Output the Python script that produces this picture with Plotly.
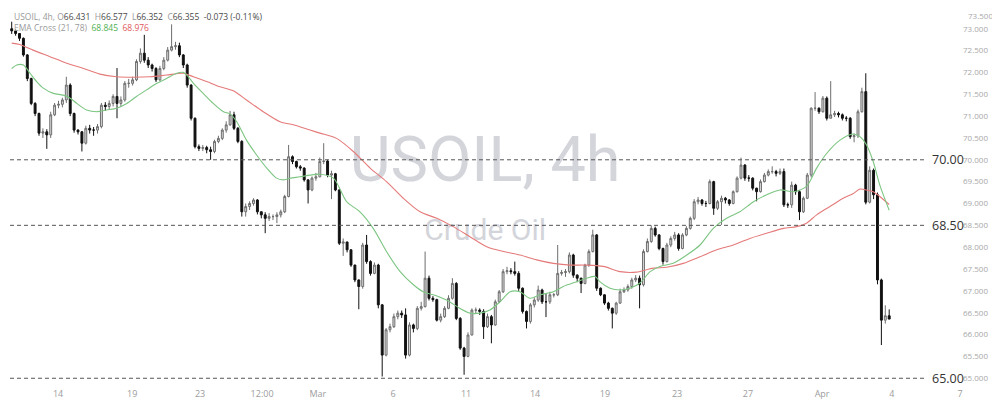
import plotly.graph_objects as go

# ---------------- data ----------------
first_open = 73.00
closes = [
    72.95, 72.89, 72.78, 72.40, 71.86, 71.29, 71.06, 70.61, 70.64, 70.57,
    71.03, 71.25, 71.27, 71.37, 71.71, 71.06, 70.68, 70.64, 70.38, 70.72,
    70.68, 70.68, 70.76, 71.25, 71.22, 71.29, 71.45, 71.29, 71.37, 71.75,
    71.75, 71.83, 72.25, 72.44, 72.28, 72.17, 72.09, 71.83, 72.09, 72.28,
    72.51, 72.59, 72.61, 72.40, 72.17, 71.71, 70.95, 70.30, 70.26, 70.28,
    70.23, 70.19, 70.42, 70.49, 70.68, 70.80, 71.03, 70.72, 70.42, 68.81,
    68.93, 69.00, 69.08, 68.81, 68.74, 68.66, 68.70, 68.70, 68.74, 68.81,
    69.16, 70.07, 69.96, 69.84, 69.81, 69.54, 69.31, 69.58, 69.61, 69.96,
    69.97, 69.65, 69.68, 69.31, 68.09, 68.12, 67.94, 67.59, 67.25, 67.10,
    68.05, 67.67, 67.40, 67.59, 66.68, 65.53, 66.11, 66.18, 66.41, 66.49,
    66.45, 65.53, 66.22, 66.14, 66.60, 66.64, 67.29, 66.83, 66.80, 66.33,
    66.41, 66.60, 66.83, 67.17, 66.37, 65.69, 65.50, 65.99, 66.56, 66.56,
    66.53, 66.18, 66.41, 66.22, 66.75, 66.98, 67.44, 67.46, 67.44, 67.40,
    67.06, 66.53, 66.30, 66.68, 66.79, 67.02, 66.75, 66.75, 66.91, 66.91,
    67.40, 67.42, 67.44, 67.82, 67.36, 67.29, 67.17, 67.59, 67.90, 68.28,
    67.06, 66.91, 66.72, 66.60, 66.49, 66.72, 66.98, 67.02, 67.10, 67.25,
    67.29, 67.14, 67.90, 68.13, 68.43, 68.28, 67.97, 67.67, 68.05, 68.20,
    68.28, 67.97, 68.28, 68.43, 68.66, 69.04, 69.08, 69.00, 69.00, 69.50,
    68.89, 69.04, 69.12, 69.08, 69.00, 69.27, 69.58, 69.88, 69.58, 69.58,
    69.35, 69.27, 69.50, 69.65, 69.73, 69.73, 69.69, 69.73, 68.97, 68.97,
    69.42, 69.27, 68.81, 69.12, 69.65, 71.18, 71.18, 71.10, 71.41, 70.95,
    71.03, 71.06, 71.03, 70.95, 70.95, 70.53, 70.55, 71.10, 71.56, 69.03,
    69.76, 69.20, 67.25, 66.33, 66.431, 66.355,
]
highs = [
    73.16, 72.98, 72.90, 72.80, 72.42, 71.88, 71.32, 71.08, 70.72, 70.70,
    71.10, 71.30, 71.35, 71.42, 71.90, 71.75, 71.08, 70.70, 70.66, 70.78,
    70.80, 70.75, 70.82, 71.30, 71.32, 71.36, 71.50, 72.10, 71.45, 71.80,
    71.85, 71.90, 72.30, 72.55, 72.86, 72.35, 72.20, 72.12, 72.15, 72.35,
    72.58, 73.10, 72.70, 72.68, 72.42, 72.20, 71.73, 70.97, 70.35, 70.34,
    70.32, 70.30, 70.46, 70.55, 70.72, 70.88, 71.12, 71.10, 70.75, 70.45,
    69.00, 69.05, 69.12, 69.10, 68.82, 68.80, 68.78, 68.75, 68.80, 68.86,
    69.20, 70.34, 70.10, 69.98, 69.88, 69.83, 69.56, 69.62, 69.70, 70.05,
    70.38, 70.00, 69.75, 69.70, 69.33, 68.20, 68.12, 67.95, 67.60, 67.26,
    68.10, 68.28, 67.70, 67.65, 67.62, 66.70, 66.15, 66.25, 66.48, 66.55,
    66.55, 66.60, 66.28, 66.25, 66.65, 66.75, 67.90, 67.35, 66.88, 66.82,
    66.48, 66.65, 66.90, 67.29, 67.20, 66.40, 65.72, 66.05, 66.60, 66.62,
    66.60, 66.58, 66.48, 66.45, 66.80, 67.02, 67.50, 67.55, 67.52, 67.67,
    67.45, 67.08, 66.55, 66.72, 66.85, 67.12, 67.05, 66.95, 66.98, 66.95,
    68.05, 67.48, 67.50, 67.88, 67.85, 67.38, 67.30, 67.62, 67.95, 68.40,
    68.30, 67.08, 66.92, 66.75, 66.62, 66.75, 67.05, 67.08, 67.15, 67.30,
    67.36, 67.35, 67.95, 68.20, 68.50, 68.47, 68.30, 67.99, 68.10, 68.25,
    68.35, 68.32, 68.32, 68.48, 68.70, 69.10, 69.15, 69.10, 69.06, 69.55,
    69.52, 69.08, 69.18, 69.15, 69.10, 69.30, 69.62, 70.05, 69.90, 69.65,
    69.60, 69.36, 69.55, 69.70, 69.78, 69.85, 69.77, 69.80, 69.80, 69.02,
    69.50, 69.45, 69.30, 69.16, 69.70, 71.20, 71.55, 71.20, 71.46, 71.45,
    71.80, 71.12, 71.10, 71.06, 71.00, 70.98, 70.60, 71.15, 71.65, 71.98,
    69.85, 69.80, 69.25, 67.28, 66.67, 66.577,
]
lows = [
    72.88, 72.84, 72.72, 72.36, 71.80, 71.25, 71.00, 70.55, 70.50, 70.25,
    70.50, 71.00, 71.18, 71.20, 71.30, 71.00, 70.62, 70.58, 70.19, 70.35,
    70.60, 70.55, 70.60, 70.72, 71.12, 71.15, 71.22, 70.95, 71.22, 71.33,
    71.65, 71.70, 71.80, 72.20, 72.22, 72.10, 72.02, 71.78, 71.80, 72.05,
    72.25, 72.48, 72.52, 72.35, 72.10, 71.65, 70.90, 70.26, 70.20, 70.20,
    70.15, 70.00, 70.15, 70.38, 70.45, 70.62, 70.78, 70.68, 70.38, 68.70,
    68.70, 68.85, 68.95, 68.75, 68.66, 68.32, 68.60, 68.62, 68.55, 68.68,
    68.78, 69.14, 69.90, 69.80, 69.75, 69.50, 69.00, 69.28, 69.52, 69.60,
    69.90, 69.60, 69.10, 69.28, 68.05, 67.80, 67.88, 67.55, 67.20, 66.58,
    67.05, 67.62, 67.35, 67.38, 66.60, 65.04, 65.50, 66.05, 66.15, 66.35,
    66.38, 65.45, 65.50, 66.05, 66.10, 66.55, 66.62, 66.78, 66.75, 66.30,
    66.28, 66.38, 66.58, 66.80, 66.33, 65.65, 65.08, 65.48, 65.98, 66.48,
    66.45, 65.90, 66.15, 65.80, 66.20, 66.72, 66.95, 67.38, 67.38, 67.35,
    67.00, 66.48, 66.14, 66.25, 66.62, 66.75, 66.70, 66.40, 66.70, 66.85,
    66.88, 67.35, 67.32, 67.40, 67.30, 67.20, 66.95, 67.15, 67.55, 67.88,
    67.00, 66.88, 66.68, 66.55, 66.14, 66.45, 66.70, 66.95, 66.98, 67.05,
    67.20, 66.60, 67.10, 67.88, 68.10, 68.24, 67.93, 67.60, 67.65, 68.00,
    68.15, 67.92, 67.95, 68.25, 68.40, 68.62, 68.98, 68.95, 68.92, 68.98,
    68.74, 68.85, 68.51, 69.00, 68.95, 68.98, 69.25, 69.55, 69.52, 69.50,
    69.30, 69.05, 69.25, 69.48, 69.62, 69.68, 69.62, 69.65, 68.92, 68.90,
    68.90, 69.20, 68.62, 68.78, 69.10, 69.60, 71.12, 71.05, 71.08, 70.90,
    70.95, 70.98, 70.97, 70.90, 70.88, 70.48, 70.40, 70.50, 71.08, 68.98,
    69.00, 69.10, 67.15, 65.76, 66.25, 66.352,
]

# EMA lines (candle index, price)
ema21_x = [0, 1.3, 3.0, 4.7, 6.4, 8.1, 10.7, 13.2, 15.0, 16.7,
           19.2, 21.8, 24.4, 26.9, 29.5, 32.0, 34.6, 37.2, 39.7, 42.3,
           44.0, 45.3, 46.6, 49.1, 51.7, 54.3, 56.0, 57.7, 60.2, 62.8,
           65.4, 67.9, 69.6, 71.4, 73.9, 76.5, 79.1, 82.5, 85.9, 89.3,
           92.7, 96.1, 99.6, 103.0, 105.5, 108.1, 111.5, 114.9, 117.5, 120.1,
           122.6, 125.2, 127.8, 130.3, 132.9, 135.5, 138.9, 141.4, 144.9, 147.4,
           149.6, 150.8, 153.4, 156.0, 158.5, 161.1, 163.7, 166.2, 169.6, 173.1,
           176.5, 179.9, 183.3, 186.7, 190.2, 193.6, 197.0, 200.4, 203.8, 206.4,
           209.0, 212.4, 215.8, 217.5, 219.2, 220.9, 222.6, 225]
ema21_y = [72.09, 72.17, 72.17, 71.98, 71.79, 71.64, 71.52, 71.48, 71.41, 71.29,
           71.14, 71.10, 71.14, 71.18, 71.29, 71.45, 71.60, 71.75, 71.86, 71.98,
           72.00, 71.90, 71.75, 71.52, 71.29, 71.10, 71.05, 70.87, 70.45, 70.11,
           69.81, 69.58, 69.54, 69.58, 69.61, 69.65, 69.67, 69.58, 69.04, 68.81,
           68.43, 67.90, 67.44, 67.14, 66.98, 66.91, 66.79, 66.60, 66.49, 66.49,
           66.56, 66.75, 66.98, 66.98, 66.83, 66.91, 66.98, 67.10, 67.21, 67.29,
           67.33, 67.21, 67.06, 67.02, 67.06, 67.18, 67.44, 67.56, 67.63, 67.82,
           68.05, 68.43, 68.66, 68.81, 69.04, 69.20, 69.31, 69.27, 69.39, 69.81,
           70.15, 70.45, 70.59, 70.53, 70.34, 69.96, 69.42, 68.845]
ema78_x = [0, 2.1, 5.5, 9.8, 14.1, 18.4, 22.6, 26.9, 31.2, 35.5,
           39.7, 44.0, 46.6, 50.0, 53.4, 56.8, 60.2, 64.5, 68.8, 72.2,
           76.5, 79.05, 83.3, 87.6, 91.9, 96.1, 100.4, 104.7, 109.0, 113.2,
           117.5, 121.8, 126.1, 130.3, 134.6, 138.9, 143.2, 147.4, 151.7, 156.0,
           160.2, 164.5, 167.9, 172.2, 176.5, 180.8, 185.0, 189.3, 193.6, 197.9,
           201.3, 203.8, 206.4, 209.8, 213.2, 215.8, 217.5, 219.2, 220.9, 222.6,
           225]
ema78_y = [72.67, 72.64, 72.51, 72.36, 72.21, 72.09, 71.96, 71.90, 71.89, 71.90,
           71.94, 71.98, 71.90, 71.79, 71.67, 71.58, 71.37, 71.10, 70.87, 70.80,
           70.68, 70.61, 70.49, 70.19, 69.81, 69.50, 69.12, 68.81, 68.66, 68.47,
           68.24, 68.01, 67.90, 67.82, 67.71, 67.63, 67.59, 67.59, 67.56, 67.44,
           67.43, 67.52, 67.54, 67.63, 67.78, 67.94, 68.05, 68.20, 68.32, 68.43,
           68.47, 68.55, 68.74, 68.93, 69.12, 69.23, 69.33, 69.31, 69.27, 69.16,
           68.976]

x_tick_pos = [11.9, 30.9, 48.3, 64.2, 78.5, 97.8, 116.5, 134.2, 152.1, 170.6,
              188.8, 207.8, 225.7, 243.2]
x_tick_text = ["14", "19", "23", "12:00", "Mar", "6", "11", "14", "19", "23",
               "27", "Apr", "4", "7"]
y_tick_vals = [65.0, 65.5, 66.0, 66.5, 67.0, 67.5, 68.0, 68.5, 69.0, 69.5,
               70.0, 70.5, 71.0, 71.5, 72.0, 72.5, 73.0, 73.5]
y_tick_text = ["65.000", "65.500", "66.000", "66.500", "67.000", "67.500",
               "68.000", "68.500", "69.000", "69.500", "70.000", "70.500",
               "71.000", "71.500", "72.000", "72.500", "73.000", "73.500"]
levels = [70.0, 68.5, 65.0]
level_text = ["70.00", "68.50", "65.00"]

# ---------------- figure ----------------
# page body has an 8px margin, so the figure is 992x405 and starts at (8, 8)
W, H = 992, 405
ML, MR, MT, MB = 0, 38, 0, 26
PW, PH = W - ML - MR, H - MT - MB

opens = [first_open] + closes[:-1]
xs = list(range(len(closes)))

fig = go.Figure()

# watermark (drawn first, under the lines)
fig.add_trace(go.Scatter(
    x=[121.4], y=[69.88], mode="text", text=["USOIL, 4h"],
    textfont=dict(family="Roboto", size=63, color="#d3d5db"),
    hoverinfo="skip", showlegend=False))
fig.add_trace(go.Scatter(
    x=[121.4], y=[68.34], mode="text", text=["Crude Oil"],
    textfont=dict(family="Roboto", size=30, color="#d3d5db"),
    hoverinfo="skip", showlegend=False))

fig.add_trace(go.Candlestick(
    x=xs, open=opens, high=highs, low=lows, close=closes,
    increasing=dict(line=dict(color="#6e6e6e", width=1), fillcolor="#dcdcdc"),
    decreasing=dict(line=dict(color="#111111", width=1), fillcolor="#111111"),
    whiskerwidth=0, hoverinfo="skip", showlegend=False))

fig.add_trace(go.Scatter(
    x=ema78_x, y=ema78_y, mode="lines",
    line=dict(color="#e57a7a", width=1.1, shape="spline", smoothing=0.8),
    hoverinfo="skip", showlegend=False))
fig.add_trace(go.Scatter(
    x=ema21_x, y=ema21_y, mode="lines",
    line=dict(color="#7cc582", width=1.1, shape="spline", smoothing=0.8),
    hoverinfo="skip", showlegend=False))

shapes = []
annotations = []
for lv, lt in zip(levels, level_text):
    shapes.append(dict(type="line", xref="x", yref="y", x0=-0.44, x1=234.2,
                       y0=lv, y1=lv, line=dict(color="#555555", width=1, dash="4px,3px")))
    annotations.append(dict(xref="paper", yref="y", x=(930 - 8) / PW, y=lv,
                            xanchor="left", yanchor="middle", showarrow=False,
                            text=lt, font=dict(family="Open Sans", size=12.5, color="#333333")))

g = "#9a9a9a"
d = "#4a4a4a"
hdr1 = (f'<span style="color:{g}">USOIL, 4h, O</span><span style="color:{d}">66.431</span>'
        f'<span style="color:{g}">  H</span><span style="color:{d}">66.577</span>'
        f'<span style="color:{g}">  L</span><span style="color:{d}">66.352</span>'
        f'<span style="color:{g}">  C</span><span style="color:{d}">66.355</span>'
        f'<span style="color:{d}">  -0.073 (-0.11%)</span>')
hdr2 = (f'<span style="color:{g}">EMA Cross (21, 78)</span>'
        f'<span style="color:#4caf50">  68.845</span>'
        f'<span style="color:#e0575b">  68.976</span>')
annotations.append(dict(xref="paper", yref="paper", x=(12 - 8) / PW, y=1,
                        xanchor="left", yanchor="top", yshift=-1, showarrow=False, text=hdr1,
                        font=dict(family="Open Sans", size=8.5)))
annotations.append(dict(xref="paper", yref="paper", x=(12 - 8) / PW, y=1,
                        xanchor="left", yanchor="top", yshift=-12, showarrow=False, text=hdr2,
                        font=dict(family="Open Sans", size=8.5)))
# top price-scale label that sits above the plotting area
annotations.append(dict(xref="paper", yref="paper", x=1.0, y=1,
                        xanchor="left", yanchor="top", xshift=4, yshift=0, showarrow=False,
                        text=y_tick_text[-1], font=dict(family="Open Sans", size=8, color="#a8a8a8")))

fig.update_layout(
    width=W, height=H,
    margin=dict(l=ML, r=MR, t=MT, b=MB, autoexpand=False),
    paper_bgcolor="white", plot_bgcolor="white",
    showlegend=False, shapes=shapes, annotations=annotations,
    font=dict(family="Open Sans"),
    xaxis=dict(range=[-0.95, 243.67], rangeslider=dict(visible=False),
               showgrid=False, zeroline=False, showline=False, ticks="",
               automargin=False,
               tickmode="array", tickvals=x_tick_pos, ticktext=x_tick_text,
               tickfont=dict(size=9, color="#9c9c9c")),
    yaxis=dict(range=[64.80, 73.474], side="right", showgrid=False,
               zeroline=False, showline=False, ticks="", automargin=False,
               tickmode="array", tickvals=y_tick_vals[:-1], ticktext=y_tick_text[:-1],
               tickfont=dict(size=8, color="#a8a8a8")),
)

fig.write_html("out.html")
